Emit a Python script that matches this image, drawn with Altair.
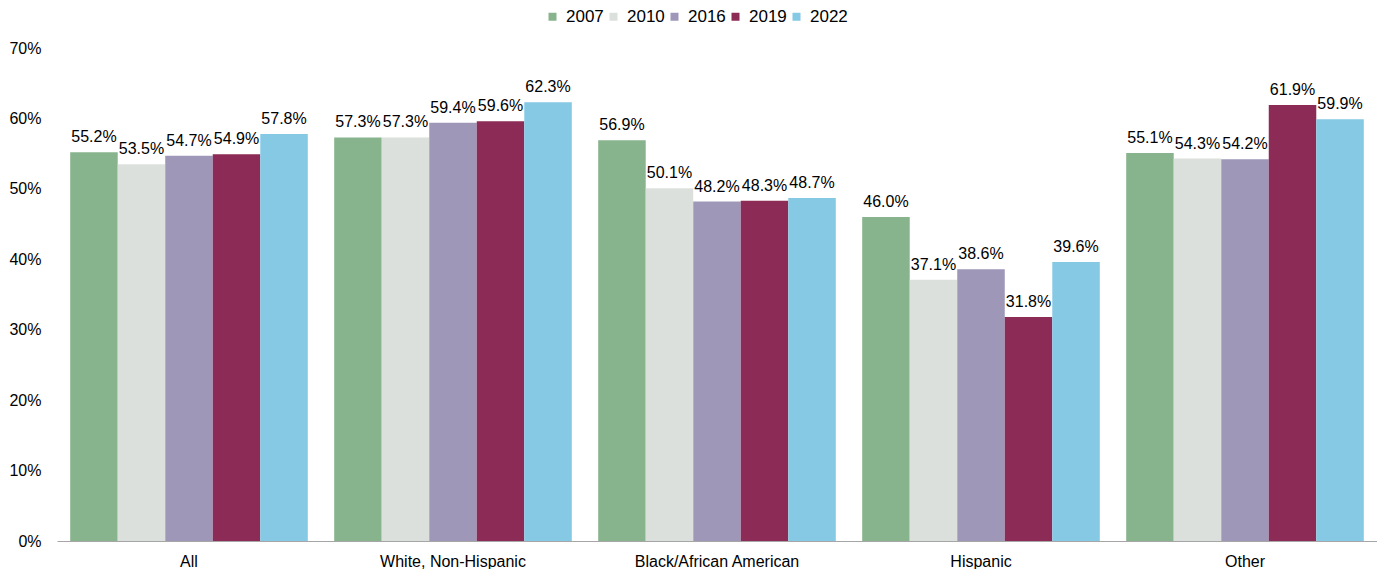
import altair as alt
import pandas as pd

groups = ["All", "White, Non-Hispanic", "Black/African American", "Hispanic", "Other"]
years = ["2007", "2010", "2016", "2019", "2022"]
colors = ["#87B38D", "#DCE0DC", "#9E97B8", "#8C2B55", "#85C9E5"]
v2007 = [55.2, 57.3, 56.9, 46.0, 55.1]
v2010 = [53.5, 57.3, 50.1, 37.1, 54.3]
v2016 = [54.7, 59.4, 48.2, 38.6, 54.2]
v2019 = [54.9, 59.6, 48.3, 31.8, 61.9]
v2022 = [57.8, 62.3, 48.7, 39.6, 59.9]

series = [v2007, v2010, v2016, v2019, v2022]
rows = []
for y, vals in zip(years, series):
    for g, v in zip(groups, vals):
        rows.append({"group": g, "year": y, "value": v})
df = pd.DataFrame(rows)

FONT = "Liberation Sans"

y_enc = alt.Y("value:Q", title=None,
              scale=alt.Scale(domain=[0, 70]),
              axis=alt.Axis(values=[0, 10, 20, 30, 40, 50, 60, 70], labelExpr="datum.value + '%'",
                            grid=False, domain=False, ticks=False, labelFontSize=16,
                            labelColor="#000000", labelPadding=16, labelFont=FONT))

base = alt.Chart(df).encode(
    x=alt.X("group:N", sort=groups, title=None,
            scale=alt.Scale(paddingInner=0.1, paddingOuter=0.05),
            axis=alt.Axis(labelAngle=0, labelFontSize=16, labelColor="#000000",
                          labelPadding=12, ticks=False, domainColor="#A6A6A6",
                          labelFont=FONT, grid=False)),
    xOffset=alt.XOffset("year:N", sort=years, scale=alt.Scale(paddingInner=0, paddingOuter=0)),
    y=y_enc,
)

bars = base.mark_bar().encode(
    color=alt.Color("year:N", sort=years,
                    scale=alt.Scale(domain=years, range=colors),
                    legend=alt.Legend(title=None, orient="none", direction="horizontal",
                                      legendX=487, legendY=-40,
                                      symbolType="square", symbolSize=64, symbolStrokeWidth=0,
                                      labelFontSize=17, labelFont=FONT, labelColor="#000000",
                                      columnPadding=1, labelOffset=5)),
)

labels = base.mark_text(baseline="alphabetic", dy=-10, fontSize=16, font=FONT, color="#000000").encode(
    text=alt.Text("label:N"),
).transform_calculate(label="format(datum.value, '.1f') + '%'")

chart = (bars + labels).properties(width=1320, height=493).configure(
    padding={"left": 0, "right": 0, "top": 0, "bottom": 0}
).configure_view(stroke=None)

chart.save("out.html", embed_options={"renderer": "svg", "actions": False})
